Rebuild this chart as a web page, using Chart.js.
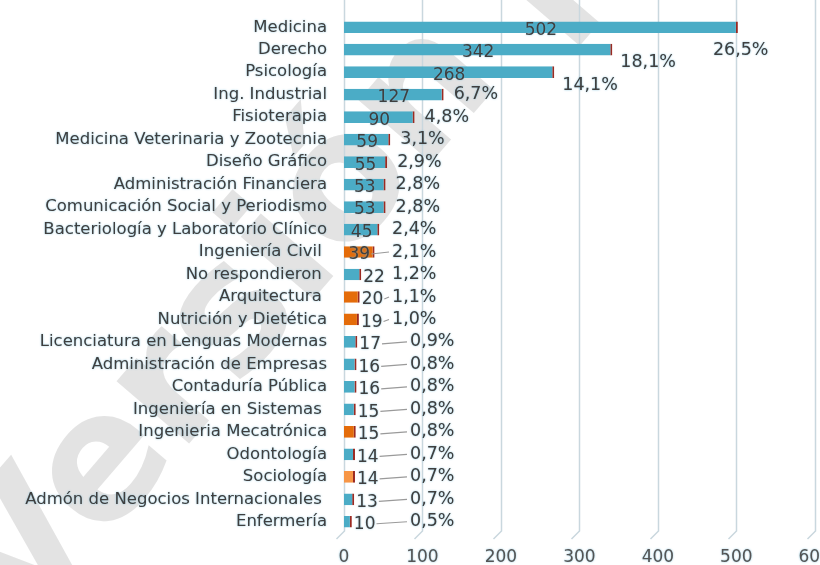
<!DOCTYPE html>
<html>
<head>
<meta charset="utf-8">
<script src="https://cdn.jsdelivr.net/npm/chart.js@4/dist/chart.umd.min.js"></script>
<style>
  html, body { margin: 0; padding: 0; background: #fff; overflow: hidden; }
  #wrap { width: 837px; height: 565px; }
</style>
</head>
<body>
<div id="wrap"><canvas id="myChart"></canvas></div>
<script>
var categorias = [
    "Medicina", "Derecho", "Psicología", "Ing. Industrial", "Fisioterapia",
    "Medicina Veterinaria y Zootecnia", "Diseño Gráfico", "Administración Financiera",
    "Comunicación Social y Periodismo", "Bacteriología y Laboratorio Clínico",
    "Ingeniería Civil ", "No respondieron ", "Arquitectura ", "Nutrición y Dietética",
    "Licenciatura en Lenguas Modernas", "Administración de Empresas", "Contaduría Pública",
    "Ingeniería en Sistemas ", "Ingenieria Mecatrónica", "Odontología", "Sociología",
    "Admón de Negocios Internacionales ", "Enfermería"
];
var valores = [502, 342, 268, 127, 90, 59, 55, 53, 53, 45, 39, 22, 20, 19, 17, 16, 16, 15, 15, 14, 14, 13, 10];
var porcentajes = ["26,5%", "18,1%", "14,1%", "6,7%", "4,8%", "3,1%", "2,9%", "2,8%", "2,8%", "2,4%",
    "2,1%", "1,2%", "1,1%", "1,0%", "0,9%", "0,8%", "0,8%", "0,8%", "0,8%", "0,7%", "0,7%", "0,7%", "0,5%"];
var ejeX = [0, 100, 200, 300, 400, 500, 600];

var azul = "#4bacc6", naranja = "#e46c0a", naranjaClaro = "#f79646";
var colores = [azul, azul, azul, azul, azul, azul, azul, azul, azul, azul,
    naranja, azul, naranja, naranja, azul, azul, azul, azul, naranja, azul, naranjaClaro, azul, azul];

var fuente = '"DejaVu Sans", sans-serif';
var colorTexto = "#3f3f3f";
var brillo = "rgba(110,185,215,0.8)";

// marca de agua de fondo + brillo azul para los textos de los ejes
var marcaAgua = {
    id: 'marcaAgua',
    beforeDraw: function(chart){
        var c = chart.ctx;
        c.save();
        c.translate(20, 640);
        c.rotate(-0.86);
        c.font = "bold 175px " + fuente;
        c.fillStyle = "rgba(200,200,200,0.5)";
        c.fillText("Versión preliminar", 0, 0);
        c.restore();
        c.shadowColor = brillo;
        c.shadowBlur = 2;
    }
};

// rejilla vertical que sube hasta el borde
var rejilla = {
    id: 'rejilla',
    beforeDatasetsDraw: function(chart){
        var c = chart.ctx, xs = chart.scales.x, area = chart.chartArea;
        c.shadowColor = "rgba(0,0,0,0)";
        c.shadowBlur = 0;
        c.save();
        c.strokeStyle = "#c9d7de";
        c.lineWidth = 1.5;
        ejeX.forEach(function(v){
            var px = Math.round(xs.getPixelForValue(v)) + 0.5;
            c.beginPath();
            c.moveTo(px, 0);
            c.lineTo(px, area.bottom - 2);
            c.lineTo(px - 8, area.bottom + 6);
            c.stroke();
        });
        c.restore();
    }
};

// etiquetas de valor y porcentaje
var etiquetas = {
    id: 'etiquetas',
    afterDatasetsDraw: function(chart){
        var c = chart.ctx, meta = chart.getDatasetMeta(0), area = chart.chartArea;
        c.save();
        c.fillStyle = colorTexto;
        c.textBaseline = "middle";
        c.shadowColor = brillo;
        c.shadowBlur = 2;
        meta.data.forEach(function(bar, i){
            var v = valores[i], fin = bar.x, ini = bar.base, y = bar.y;
            c.font = "17px " + fuente;
            var txt = String(v), w = c.measureText(txt).width, finNum;
            if (v >= 39) {
                c.textAlign = "center";
                c.fillText(txt, (ini + fin) / 2, y + 3);
                finNum = (ini + fin) / 2 + w / 2;
            } else {
                c.textAlign = "left";
                c.fillText(txt, fin + 2, y + 3);
                finNum = fin + 2 + w;
            }
            c.font = "17.5px " + fuente;
            var p = porcentajes[i], pw = c.measureText(p).width;
            c.textAlign = "left";
            if (v > 200) {
                var px = fin + 8, dy = 13;
                if (px + pw > area.right - 40) { px = fin - 25; dy = 23; }
                c.fillText(p, px, y + dy);
                return;
            }
            var minimo = v <= 17 ? ini + 66 : ini + 48;
            var pl = Math.max(fin + 10, minimo);
            if (v < 45 && pl - finNum > 8) {
                c.save();
                c.shadowBlur = 0;
                c.strokeStyle = "#9a9a9a";
                c.lineWidth = 1.2;
                c.beginPath();
                c.moveTo(finNum + 1, y + 2);
                c.lineTo(pl - 3, y);
                c.stroke();
                c.restore();
            }
            c.fillText(p, pl, y);
        });
        c.restore();
    }
};

var ctx = document.getElementById("myChart");
var myChart = new Chart(ctx, {
    type: 'bar',
    data: {
        labels: categorias,
        datasets: [{
            label: 'Programa',
            data: valores,
            backgroundColor: colores,
            borderColor: "#9b2a22",
            borderWidth: {top: 0, right: 2, bottom: 0, left: 0},
            borderSkipped: false,
            barPercentage: 0.52,
            categoryPercentage: 1
        }]
    },
    options: {
        indexAxis: 'y',
        responsive: true,
        maintainAspectRatio: false,
        animation: false,
        layout: { padding: { top: 16, left: 0, right: 0, bottom: 0 } },
        plugins: { legend: { display: false }, tooltip: { enabled: false } },
        scales: {
            x: {
                min: 0, max: 600,
                afterBuildTicks: function(s){ s.ticks = ejeX.map(function(v){ return {value: v}; }); },
                afterFit: function(s){ s.height = 32; },
                grid: { display: false },
                border: { display: false },
                ticks: { color: "#555", font: { family: fuente, size: 17 }, padding: 6 }
            },
            y: {
                afterFit: function(s){ s.width = 344; s.paddingTop = 0; s.paddingBottom = 0; },
                grid: { display: false },
                border: { display: false },
                ticks: { color: colorTexto, font: { family: fuente, size: 16.5 }, padding: 9, autoSkip: false }
            }
        }
    },
    plugins: [marcaAgua, rejilla, etiquetas]
});
</script>
</body>
</html>
